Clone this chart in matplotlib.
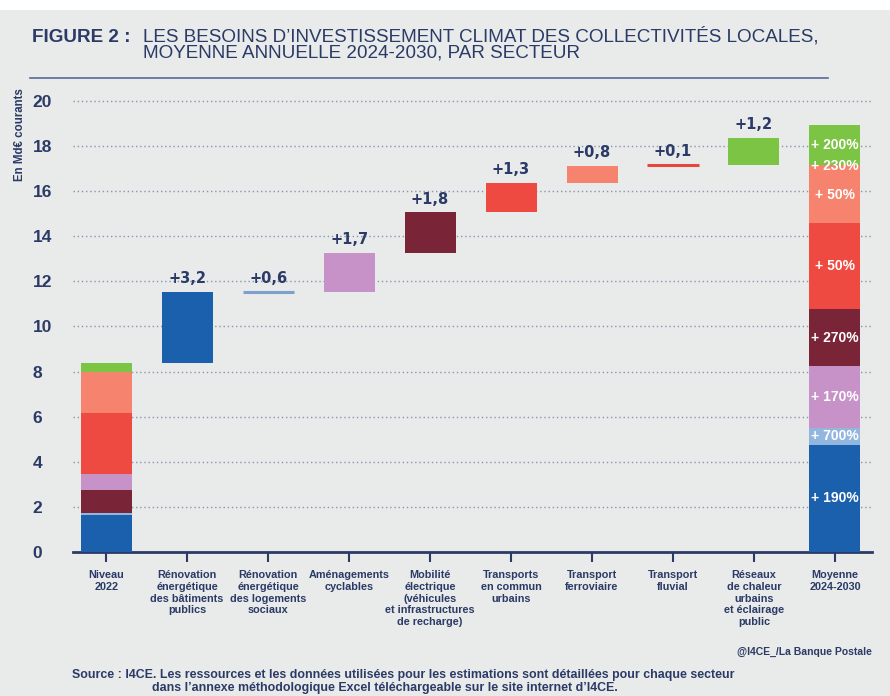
import matplotlib
matplotlib.use("Agg")
import matplotlib.pyplot as plt
from matplotlib.patches import Rectangle
from matplotlib.lines import Line2D

NAVY = "#2b3a67"
BG = "#e8ebe9"
FONT = ["Liberation Sans", "DejaVu Sans"]

# categories on the x axis
CATEGORIES = [
    "Niveau\n2022",
    "Rénovation\nénergétique\ndes bâtiments\npublics",
    "Rénovation\nénergétique\ndes logements\nsociaux",
    "Aménagements\ncyclables",
    "Mobilité\nélectrique\n(véhicules\net infrastructures\nde recharge)",
    "Transports\nen commun\nurbains",
    "Transport\nferroviaire",
    "Transport\nfluvial",
    "Réseaux\nde chaleur\nurbains\net éclairage\npublic",
    "Moyenne\n2024-2030",
]

# 2022 level, stacked bottom -> top (Md€)
LEVEL_2022 = [1.65, 0.10, 1.00, 0.70, 2.70, 1.82, 0.40]
LEVEL_2022_COLORS = ["#1b60ad", "#93b6de", "#7a2537", "#c692c8", "#ee4a41", "#f5836d", "#7cc443"]

# increments per sector, as drawn in the figure (Md€)
INCREMENTS = [3.17, 0.0, 1.72, 1.80, 1.30, 0.76, 0.05, 1.20]
INCREMENT_LABELS = ["+3,2", "+0,6", "+1,7", "+1,8", "+1,3", "+0,8", "+0,1", "+1,2"]
INCREMENT_COLORS = ["#1b60ad", "#7f9fce", "#c692c8", "#7a2537", "#ee4a41", "#f5836d", "#e5473f", "#7cc443"]

# average 2024-2030, stacked bottom -> top (Md€)
AVERAGE = [4.76, 0.74, 2.74, 2.52, 3.84, 2.46, 0.10, 1.78]
AVERAGE_LABELS = ["+ 190%", "+ 700%", "+ 170%", "+ 270%", "+ 50%", "+ 50%", "+ 230%", "+ 200%"]
AVERAGE_COLORS = ["#1b60ad", "#93b6de", "#c692c8", "#7a2537", "#ee4a41", "#f5836d", "#f5836d", "#7cc443"]

Y_TICKS = list(range(0, 21, 2))
WIDTH = 0.63


def draw_chart():
    plt.rcParams["font.family"] = FONT
    fig = plt.figure(figsize=(8.9, 6.96), dpi=100, facecolor="white")
    fig.patches.append(Rectangle((0, 0), 1, 1 - 10 / 696, transform=fig.transFigure,
                                 facecolor=BG, edgecolor="none", zorder=-10))

    ax = fig.add_axes([0.082, 0.2069, 0.898, 0.658])
    ax.set_facecolor("none")

    # niveau 2022
    bottom = 0
    for v, c in zip(LEVEL_2022, LEVEL_2022_COLORS):
        ax.bar(0, v, bottom=bottom, width=WIDTH, color=c, zorder=3)
        bottom += v

    # waterfall increments
    for i, (v, lab, c) in enumerate(zip(INCREMENTS, INCREMENT_LABELS, INCREMENT_COLORS)):
        x = i + 1
        if v < 0.1:
            ax.plot([x - WIDTH / 2, x + WIDTH / 2], [bottom + v, bottom + v], color=c,
                    lw=2.2, solid_capstyle="butt", zorder=3)
        else:
            ax.bar(x, v, bottom=bottom, width=WIDTH, color=c, zorder=3)
        ax.annotate(lab, (x, bottom + v), xytext=(0, 4), textcoords="offset points",
                    ha="center", va="bottom", fontsize=10.5, fontweight="bold", color=NAVY,
                    family="DejaVu Sans")
        bottom += v

    # moyenne 2024-2030
    x = len(CATEGORIES) - 1
    bottom = 0
    for v, lab, c in zip(AVERAGE, AVERAGE_LABELS, AVERAGE_COLORS):
        ax.bar(x, v, bottom=bottom, width=WIDTH, color=c, zorder=3)
        ax.text(x, bottom + v / 2, lab, ha="center", va="center", fontsize=10,
                fontweight="bold", color="white", zorder=4)
        bottom += v

    ax.set_xlim(-0.41, len(CATEGORIES) - 1 + 0.46)
    ax.set_ylim(0, 20.3)
    ax.set_yticks(Y_TICKS)
    ax.set_yticklabels([str(t) for t in Y_TICKS], fontsize=12.5, fontweight="bold", color=NAVY)
    for t in Y_TICKS[1:]:
        ax.axhline(t, color="#8a93b0", lw=1.0, ls=(0, (1, 2)), zorder=1)
    ax.tick_params(axis="y", length=0, pad=29)
    for lab in ax.get_yticklabels():
        lab.set_horizontalalignment("left")

    ax.set_xticks(range(len(CATEGORIES)))
    ax.set_xticklabels(CATEGORIES, fontsize=7.8, fontweight="bold", color=NAVY,
                       linespacing=1.22)
    ax.tick_params(axis="x", length=7, width=1.5, color=NAVY, pad=6)

    for s in ["top", "right", "left"]:
        ax.spines[s].set_visible(False)
    ax.spines["bottom"].set_color(NAVY)
    ax.spines["bottom"].set_linewidth(2)

    ax.text(-0.066, 1.012, "En Md€ courants", transform=ax.transAxes, rotation=90,
            ha="center", va="top", fontsize=8.3, fontweight="bold", color=NAVY)

    # title
    fig.text(32 / 890, 1 - 42 / 696, "FIGURE 2 :", fontsize=13.6, fontweight="bold",
             color=NAVY, va="baseline")
    fig.text(143 / 890, 1 - 42 / 696,
             "LES BESOINS D’INVESTISSEMENT CLIMAT DES COLLECTIVITÉS LOCALES,",
             fontsize=13.6, color=NAVY, va="baseline")
    fig.text(143 / 890, 1 - 58 / 696, "MOYENNE ANNUELLE 2024-2030, PAR SECTEUR",
             fontsize=13.6, color=NAVY, va="baseline")
    fig.add_artist(Line2D([30 / 890, 828 / 890], [1 - 78 / 696, 1 - 78 / 696],
                          transform=fig.transFigure, color="#5a6a94", lw=1.2))

    # credits / source
    fig.text(872 / 890, 1 - 652 / 696, "@I4CE_/La Banque Postale", ha="right", va="center",
             fontsize=7.5, fontweight="bold", color=NAVY)
    fig.text(72 / 890, 1 - 675 / 696,
             "Source : I4CE. Les ressources et les données utilisées pour les estimations "
             "sont détaillées pour chaque secteur", va="center", fontsize=8.9,
             fontweight="bold", color=NAVY)
    fig.text(152 / 890, 1 - 688 / 696,
             "dans l’annexe méthodologique Excel téléchargeable sur le site internet d’I4CE.",
             va="center", fontsize=8.9, fontweight="bold", color=NAVY)

    fig.savefig("out.png", dpi=100, facecolor=fig.get_facecolor())
    plt.close(fig)


if __name__ == "__main__":
    draw_chart()
